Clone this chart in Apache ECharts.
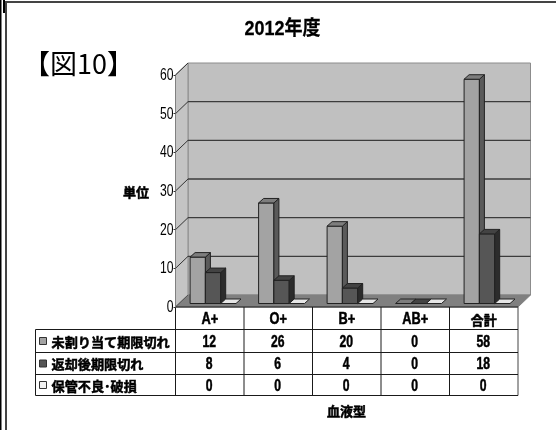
<!DOCTYPE html>
<html>
<head>
<meta charset="utf-8">
<style>html,body{margin:0;padding:0;background:#fff}#chart{width:556px;height:430px}</style>
<script src="https://cdn.jsdelivr.net/npm/echarts@6/dist/echarts.min.js"></script>
</head>
<body>
<div id="chart"></div>
<script>
// Blood product wastage for fiscal 2012, by blood type
const categories = ['A+', 'O+', 'B+', 'AB+', '合計'];
const seriesNames = ['未割り当て期限切れ', '返却後期限切れ', '保管不良･破損'];
const unassignedExpired = [12, 26, 20, 0, 58];
const returnedExpired = [8, 6, 4, 0, 18];
const storageDamage = [0, 0, 0, 0, 0];
const tickValues = [0, 10, 20, 30, 40, 50, 60];

const valueRows = [unassignedExpired, returnedExpired, storageDamage];

// Colours of each bar series: front face, side face, top face
const barShades = [
  { front: '#a3a3a3', side: '#5a5a5a', top: '#7d7d7d' },
  { front: '#565656', side: '#2c2c2c', top: '#434343' },
  { front: '#f2f2f2', side: '#8a8a8a', top: '#e6e6e6' }
];

// Projection used for the pseudo-3D box and bars
const WALL_DX = 12.5, WALL_DY = -12;
const BAR_DX = 5, BAR_DY = -4.5, BAR_LIFT = 3.5;
const BAR_LEAD = 14.6, BAR_W = 15.3;

// Data table layout
const TABLE_LEFT = 35.5;
const ROW_EDGES = [329.5, 352.5, 374.5, 395.5];
const LINE = '#1a1a1a';
const LATIN = '"Liberation Sans","Noto Sans CJK JP",sans-serif';
const CJK = '"Noto Sans CJK JP",sans-serif';
const NARROW = 0.76;

function poly(points, fill, stroke, lineWidth) {
  return { type: 'polygon', shape: { points }, style: { fill, stroke: stroke || 'none', lineWidth: lineWidth || 1 } };
}
function line(x1, y1, x2, y2, stroke, lineWidth) {
  return { type: 'line', shape: { x1, y1, x2, y2 }, style: { stroke, lineWidth: lineWidth || 1 } };
}
// Condensed text: the width is squeezed about the anchor point
function label(text, x, y, font, align, scaleX, heavy) {
  return {
    type: 'text', x, y, scaleX: scaleX,
    style: {
      text, x: 0, y: 0, fill: '#000', font, textAlign: align, textVerticalAlign: 'middle',
      stroke: heavy ? '#000' : 'none', lineWidth: heavy ? 0.5 : 0
    }
  };
}

// Back wall, side wall, floor, gridlines and value labels
function renderBox(params, api) {
  const band = api.size([1, 0])[0];
  const left = api.coord([0, 0])[0] - band / 2;
  const right = api.coord([categories.length - 1, 0])[0] + band / 2;
  const y0 = api.coord([0, 0])[1];
  const yTop = api.coord([0, tickValues[tickValues.length - 1]])[1];
  const kids = [
    poly([[left + WALL_DX, y0 + WALL_DY], [left + WALL_DX, yTop + WALL_DY], [right + WALL_DX, yTop + WALL_DY], [right + WALL_DX, y0 + WALL_DY]], '#c0c0c0', '#8c8c8c'),
    poly([[left, y0], [left, yTop], [left + WALL_DX, yTop + WALL_DY], [left + WALL_DX, y0 + WALL_DY]], '#c4c4c4', '#8c8c8c'),
    poly([[left, y0], [left + WALL_DX, y0 + WALL_DY], [right + WALL_DX, y0 + WALL_DY], [right, y0]], '#808080', '#808080')
  ];
  tickValues.forEach(function (v) {
    const y = api.coord([0, v])[1];
    if (v > 0 && v < tickValues[tickValues.length - 1]) {
      kids.push(line(left + WALL_DX, y + WALL_DY, right + WALL_DX, y + WALL_DY, '#3c3c3c', 1.3));
    }
    kids.push(line(left, y, left + WALL_DX, y + WALL_DY, v > 0 ? '#333' : '#555', 1));
    kids.push(label(String(v), left - 2, y + 0.5, '16px ' + LATIN, 'right', NARROW, false));
  });
  return { type: 'group', children: kids };
}

// One bar as front, side and top faces
function renderBar(seriesIndex) {
  return function (params, api) {
    const idx = api.value(0), val = api.value(1);
    const band = api.size([1, 0])[0];
    const x = api.coord([idx, 0])[0] - band / 2 + BAR_LEAD + seriesIndex * BAR_W;
    const yBase = api.coord([idx, 0])[1] - BAR_LIFT;
    const yTop = api.coord([idx, val])[1] - BAR_LIFT;
    const s = barShades[seriesIndex];
    const edge = '#222';
    const kids = [];
    if (val > 0) {
      kids.push(poly([[x, yBase], [x, yTop], [x + BAR_W, yTop], [x + BAR_W, yBase]], s.front, edge));
      kids.push(poly([[x + BAR_W, yBase], [x + BAR_W, yTop], [x + BAR_W + BAR_DX, yTop + BAR_DY], [x + BAR_W + BAR_DX, yBase + BAR_DY]], s.side, edge));
    }
    kids.push(poly([[x, yTop], [x + BAR_DX, yTop + BAR_DY], [x + BAR_W + BAR_DX, yTop + BAR_DY], [x + BAR_W, yTop]], s.top, edge));
    return { type: 'group', children: kids };
  };
}

// Data table under the plot, aligned to the category bands
function renderTable(params, api) {
  const band = api.size([1, 0])[0];
  const left = api.coord([0, 0])[0] - band / 2;
  const right = left + band * categories.length;
  const y0 = api.coord([0, 0])[1];
  const bottom = ROW_EDGES[ROW_EDGES.length - 1];
  const kids = [line(left, y0, right, y0, LINE), line(right, y0, right, bottom, '#444'), line(left, y0, left, bottom, LINE)];
  for (let c = 1; c < categories.length; c++) {
    kids.push(line(left + band * c, y0, left + band * c, bottom, LINE));
  }
  ROW_EDGES.forEach(function (y) { kids.push(line(TABLE_LEFT, y, right, y, LINE)); });
  kids.push(line(TABLE_LEFT, ROW_EDGES[0], TABLE_LEFT, bottom, LINE));
  categories.forEach(function (name, c) {
    const isLatin = /^[A-Z+]+$/.test(name);
    kids.push(label(name, left + band * (c + 0.5), (y0 + ROW_EDGES[0]) / 2 + 1.5,
      isLatin ? 'bold 16px ' + LATIN : 'bold 13px ' + CJK, 'center', isLatin ? 0.8 : 1, true));
  });
  seriesNames.forEach(function (name, r) {
    const cy = (ROW_EDGES[r] + ROW_EDGES[r + 1]) / 2;
    kids.push({ type: 'rect', shape: { x: 39.5, y: cy - 3.5, width: 7, height: 7 }, style: { fill: barShades[r].front, stroke: '#333', lineWidth: 1 } });
    kids.push(label(name, 51.5, cy + 1, 'bold 13px ' + CJK, 'left', 1.01, true));
    valueRows[r].forEach(function (v, c) {
      kids.push(label(String(v), left + band * (c + 0.5) - 0.5, cy + 1.5, 'bold 16px ' + LATIN, 'center', NARROW, true));
    });
  });
  return { type: 'group', children: kids };
}

function barSeries(values, i) {
  return {
    type: 'custom', coordinateSystem: 'cartesian2d', clip: false, silent: true, z: 3 + i,
    name: seriesNames[i],
    data: values.map(function (v, c) { return [c, v]; }),
    encode: { x: 0, y: 1 },
    renderItem: renderBar(i)
  };
}

const chart = echarts.init(document.getElementById('chart'), null, { renderer: 'canvas' });
chart.setOption({
  animation: false,
  backgroundColor: '#fff',
  grid: { left: 175.5, top: 75, width: 342.5, height: 232, containLabel: false },
  xAxis: {
    type: 'category', data: categories,
    axisLine: { show: false }, axisTick: { show: false }, splitLine: { show: false },
    axisLabel: { show: false }
  },
  yAxis: {
    type: 'value', min: 0, max: 60, interval: 10,
    axisLine: { show: true, lineStyle: { color: '#808080' } },
    axisTick: { show: true, length: 2, lineStyle: { color: '#333' } },
    splitLine: { show: false },
    axisLabel: { show: false },
    z: 10
  },
  series: [
    {
      type: 'custom', coordinateSystem: 'cartesian2d', clip: false, silent: true, z: 1,
      data: [[0, 0]], encode: { x: 0, y: 1 }, renderItem: renderBox
    },
    barSeries(unassignedExpired, 0),
    barSeries(returnedExpired, 1),
    barSeries(storageDamage, 2),
    {
      type: 'custom', coordinateSystem: 'cartesian2d', clip: false, silent: true, z: 8,
      data: [[0, 0]], encode: { x: 0, y: 1 }, renderItem: renderTable
    }
  ],
  graphic: [
    { type: 'text', silent: true, x: 282.5, y: 29, scaleX: 0.9, style: { text: '2012年度', x: 0, y: 0, fill: '#000', stroke: '#000', lineWidth: 0.3, font: 'bold 20px ' + LATIN, textAlign: 'center', textVerticalAlign: 'middle' } },
    { type: 'text', silent: true, style: { text: '【図10】', x: 23, y: 64, fill: '#000', font: '27px ' + CJK, textVerticalAlign: 'middle' } },
    { type: 'text', silent: true, style: { text: '単位', x: 123, y: 192, fill: '#000', stroke: '#000', lineWidth: 0.5, font: 'bold 13px ' + CJK, textVerticalAlign: 'middle' } },
    { type: 'text', silent: true, style: { text: '血液型', x: 327, y: 411, fill: '#000', stroke: '#000', lineWidth: 0.5, font: 'bold 13px ' + CJK, textVerticalAlign: 'middle' } },
    // Page frame
    { type: 'line', silent: true, shape: { x1: 0.5, y1: 0, x2: 0.5, y2: 430 }, style: { stroke: '#000', lineWidth: 2 } },
    { type: 'line', silent: true, shape: { x1: 6, y1: 2, x2: 6, y2: 430 }, style: { stroke: '#444', lineWidth: 2 } },
    { type: 'line', silent: true, shape: { x1: 5, y1: 2, x2: 556, y2: 2 }, style: { stroke: '#444', lineWidth: 2 } },
    { type: 'line', silent: true, shape: { x1: 4, y1: 0, x2: 4, y2: 13 }, style: { stroke: '#000', lineWidth: 2 } }
  ]
});
</script>
</body>
</html>
